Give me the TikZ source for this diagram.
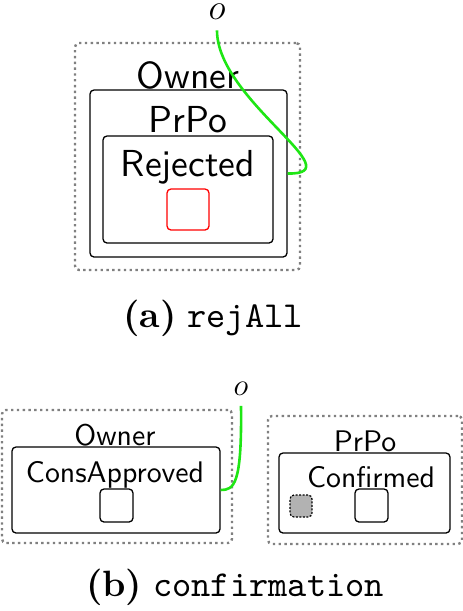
\RequirePackage{fix-cm}
\documentclass[tikz,border=0pt]{standalone}
\usepackage{fontspec}
\usepackage{tikz}
\usetikzlibrary{positioning}
\newfontfamily\statefont{lmsans10-regular.otf}
\newfontfamily\capbf{lmroman10-bold.otf}
\newfontfamily\captt{lmmono10-regular.otf}
\definecolor{linkgreen}{RGB}{30,230,20}
\definecolor{dotgray}{RGB}{128,128,128}

\begin{document}
\begin{tikzpicture}[
    x=1pt, y=-1pt,
    region/.style={draw=dotgray, line width=2.4pt, dash pattern=on 2.4pt off 3.4pt, rounded corners=4pt, inner sep=0pt},
    statebox/.style={draw, line width=1.3pt, rounded corners=4pt, inner sep=0pt},
    bigtxt/.style={font=\statefont\fontsize{37.6}{40}\selectfont, inner sep=0pt},
    smalltxt/.style={font=\statefont\fontsize{29.8}{32}\selectfont, inner sep=0pt},
    caption/.style={font=\fontsize{36.6}{40}\selectfont, inner sep=0pt},
    link/.style={draw=linkgreen, line width=2.6pt}
]
\useasboundingbox (0,0) rectangle (463,611);

% (a) rejAll
\node[region, minimum width=225pt, minimum height=227pt] (ownA) at (187.5,156.5) {};
\node[bigtxt] (ownAtxt) at (188,75) {Owner};
\node[statebox, minimum width=197pt, minimum height=167pt] (prpoA) at (188.5,173.5) {};
\node[bigtxt] (prpoAtxt) at (188,120) {PrPo};
\node[statebox, minimum width=170pt, minimum height=107pt] (rej) at (188,189.5) {};
\node[bigtxt] (rejtxt) at (188,167) {Rejected};
\node[statebox, draw=red, minimum width=42pt, minimum height=41pt] (rejsq) at (188,209.5) {};

\node[font=\fontsize{36}{38}\selectfont, inner sep=11pt] (oA) at (217,11.5) {$o$};
\draw[link] (oA.south) .. controls (217,100) and (355,175) .. (prpoA.east);

\node[caption] (capA) at (213,318) {{\capbf (a)} {\captt rejAll}};

% (b) confirmation
\node[region, minimum width=230pt, minimum height=133pt] (ownB) at (117,476.5) {};
\node[smalltxt] (ownBtxt) at (115,435) {Owner};
\node[statebox, minimum width=208pt, minimum height=86pt] (cons) at (116,490) {};
\node[smalltxt] (constxt) at (115,475) {ConsApproved};
\node[statebox, minimum width=33pt, minimum height=33pt] (conssq) at (116.5,505.5) {};

\node[region, minimum width=194pt, minimum height=128pt] (prpoB) at (365,480) {};
\node[smalltxt] (prpoBtxt) at (365,441.5) {PrPo};
\node[statebox, minimum width=171pt, minimum height=80pt] (conf) at (364.5,493) {};
\node[smalltxt] (conftxt) at (371,477) {Confirmed};
\node[draw, fill=gray!60, line width=1.2pt, dash pattern=on 2pt off 1.5pt, rounded corners=4pt, minimum width=22pt, minimum height=22pt, inner sep=0pt] (ghost) at (301,506) {};
\node[statebox, minimum width=33pt, minimum height=33pt] (confsq) at (371.5,505.5) {};

\node[font=\fontsize{31}{33}\selectfont, inner sep=10pt] (oB) at (241,389) {$o$};
\draw[link] (oB.south) .. controls (242,485) and (234,490) .. (cons.east);

\node[caption] (capB) at (235,587) {{\capbf (b)} {\captt confirmation}};
\end{tikzpicture}
\end{document}
